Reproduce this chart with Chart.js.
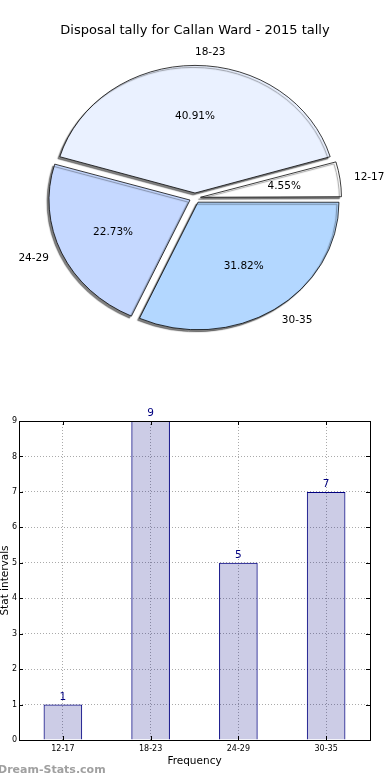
<!DOCTYPE html>
<html>
<head>
<meta charset="utf-8">
<script src="https://cdn.jsdelivr.net/npm/chart.js@4.4.0/dist/chart.umd.min.js"></script>
<style>
body{margin:0;background:#fff;width:390px;height:780px;overflow:hidden;position:relative;font-family:"DejaVu Sans",sans-serif}
#pieTitle{position:absolute;top:22px;left:0;width:390px;text-align:center;font-size:13px;color:#000}
#pieBox{position:absolute;left:0;top:0;width:390px;height:396px}
#barBox{position:absolute;left:0;top:400px;width:390px;height:380px}
#mark{position:absolute;left:-2px;top:763px;font-size:11px;font-weight:bold;color:#a0a0a0}
</style>
</head>
<body>
<div id="pieBox"><canvas id="pie"></canvas></div>
<div id="pieTitle">Disposal tally for Callan Ward - 2015 tally</div>
<div id="barBox"><canvas id="bar"></canvas></div>
<div id="mark">Dream-Stats.com</div>
<script>
// data
const ageGroups = ['12-17', '18-23', '24-29', '30-35'];
const tally = [1, 9, 5, 7];
const pieColors = ['#ffffff', '#eaf1ff', '#c5d8ff', '#b3d7ff'];
const yTicks = [0, 1, 2, 3, 4, 5, 6, 7, 8, 9];

const pieRadius = 141;
const squash = 0.905; // pie is drawn a bit flat
const explode = 5.5;  // px each slice moves out (chart.js divides offset by 4)

// chart.js goes clockwise, matplotlib counter clockwise -> reverse
const pieLabels = ageGroups.slice().reverse();
const pieData = tally.slice().reverse();
const pieFill = pieColors.slice().reverse();

const pieText = {
  id: 'pieText',
  afterDatasetUpdate(chart) {
    // chart.js makes narrow exploded slices bigger, undo that
    chart.getDatasetMeta(0).data.forEach(a => {
      const fix = 1 - Math.sin(Math.min(Math.PI, a.circumference));
      a.outerRadius = pieRadius - explode * fix;
    });
  },
  beforeDatasetsDraw(chart) {
    const ctx = chart.ctx;
    const a = chart.getDatasetMeta(0).data[0];
    ctx.save();
    ctx.translate(0, a.y);
    ctx.scale(1, squash);
    ctx.translate(0, -a.y);
    ctx.shadowColor = 'rgba(0,0,0,0.5)';
    ctx.shadowOffsetX = -2;
    ctx.shadowOffsetY = 2;
    ctx.shadowBlur = 1;
  },
  afterDatasetsDraw(chart) {
    const ctx = chart.ctx;
    ctx.restore();
    const meta = chart.getDatasetMeta(0);
    const vals = chart.data.datasets[0].data;
    const total = vals.reduce((s, v) => s + v, 0);
    ctx.save();
    ctx.font = '10.5px "DejaVu Sans"';
    ctx.fillStyle = '#000';
    ctx.textBaseline = 'middle';
    meta.data.forEach((a, i) => {
      const mid = (a.startAngle + a.endAngle) / 2;
      const c = Math.cos(mid), s = Math.sin(mid);
      const r = pieRadius, off = explode;
      ctx.textAlign = 'center';
      ctx.fillText((vals[i] / total * 100).toFixed(2) + '%',
        a.x + c * (0.6 * r + off), a.y + s * (0.6 * r + off) * squash);
      ctx.textAlign = c > -1e-6 ? 'left' : 'right';
      ctx.fillText(chart.data.labels[i],
        a.x + c * (1.1 * r + off), a.y + s * (1.1 * r + off) * squash);
    });
    ctx.restore();
  }
};

new Chart(document.getElementById('pie'), {
  type: 'pie',
  data: {
    labels: pieLabels,
    datasets: [{
      data: pieData,
      backgroundColor: pieFill,
      borderColor: '#000',
      borderWidth: 0.8,
      offset: explode * 4,
      radius: pieRadius
    }]
  },
  options: {
    animation: false,
    responsive: true,
    maintainAspectRatio: false,
    rotation: 90,
    layout: {padding: 0},
    plugins: {legend: {display: false}, tooltip: {enabled: false}}
  },
  plugins: [pieText]
});

// ! bar chart ***************
const frame = {
  id: 'frame',
  afterDraw(chart) {
    const ctx = chart.ctx, a = chart.chartArea;
    ctx.save();
    ctx.strokeStyle = '#000';
    ctx.lineWidth = 1;
    ctx.beginPath();
    chart.scales.y.ticks.forEach(t => {
      const y = Math.round(chart.scales.y.getPixelForValue(t.value)) + 0.5;
      ctx.moveTo(a.left, y); ctx.lineTo(a.left + 4, y);
      ctx.moveTo(a.right, y); ctx.lineTo(a.right - 4, y);
    });
    chart.scales.x.ticks.forEach((t, i) => {
      const x = Math.round(chart.scales.x.getPixelForTick(i)) + 0.5;
      ctx.moveTo(x, a.bottom); ctx.lineTo(x, a.bottom - 4);
      ctx.moveTo(x, a.top); ctx.lineTo(x, a.top + 4);
    });
    ctx.stroke();
    ctx.strokeRect(Math.round(a.left) + 0.5, Math.round(a.top) + 0.5, Math.round(a.width), Math.round(a.height));
    // numbers above the bars
    ctx.fillStyle = '#000080';
    ctx.font = '10.5px "DejaVu Sans"';
    ctx.textAlign = 'center';
    ctx.textBaseline = 'bottom';
    chart.getDatasetMeta(0).data.forEach((b, i) => {
      ctx.fillText(String(chart.data.datasets[0].data[i]), b.x, b.y - 2);
    });
    ctx.restore();
  }
};

new Chart(document.getElementById('bar'), {
  type: 'bar',
  data: {
    labels: ageGroups,
    datasets: [{
      data: tally,
      backgroundColor: 'rgba(0,0,128,0.2)',
      borderColor: '#000080',
      borderWidth: 1,
      barPercentage: 0.44,
      categoryPercentage: 1
    }]
  },
  options: {
    animation: false,
    responsive: true,
    maintainAspectRatio: false,
    layout: {padding: {top: 21, right: 20, left: 0, bottom: 0}},
    plugins: {legend: {display: false}, tooltip: {enabled: false}},
    scales: {
      x: {
        offset: true,
        grid: {offset: false, color: '#aaaaaa', drawTicks: false},
        border: {display: false, dash: [1, 2]},
        ticks: {font: {size: 8, family: 'DejaVu Sans'}, color: '#000', padding: 4},
        title: {display: true, text: 'Frequency', color: '#000',
          font: {size: 10.5, family: 'DejaVu Sans'}, padding: {top: 0, bottom: 12}},
        afterFit(s) { s.height = 40; }
      },
      y: {
        min: 0,
        max: 9,
        afterBuildTicks(s) { s.ticks = yTicks.map(v => ({value: v})); },
        grid: {color: '#aaaaaa', drawTicks: false},
        border: {display: false, dash: [1, 2]},
        ticks: {font: {size: 8, family: 'DejaVu Sans'}, color: '#000', padding: 2},
        title: {display: true, text: 'Stat intervals', color: '#000',
          font: {size: 10.5, family: 'DejaVu Sans', lineHeight: 1}, padding: 0},
        afterFit(s) { s.width = 19; }
      }
    }
  },
  plugins: [frame]
});
</script>
</body>
</html>
